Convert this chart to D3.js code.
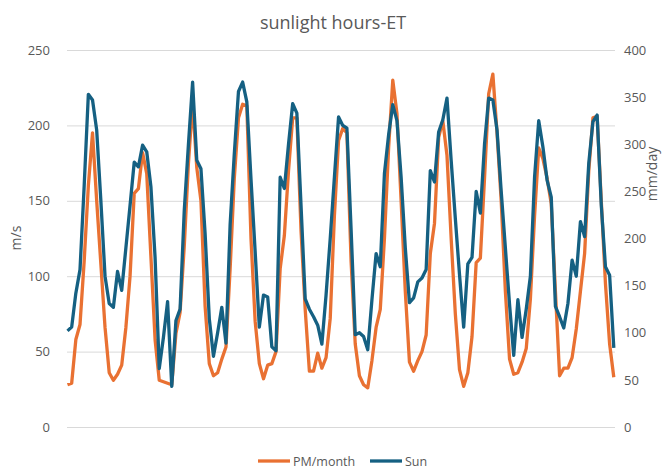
<!DOCTYPE html>
<html>
<head>
<meta charset="utf-8">
<script src="https://cdn.jsdelivr.net/npm/d3@7"></script>
<style>
  body { margin: 0; background: #fff; }
  svg text { font-family: "Open Sans", "Noto Sans", sans-serif; fill: #595959; }
</style>
</head>
<body>
<svg id="chart" width="666" height="469"></svg>
<script>
// monthly values, 11 years
const pmMonth = [
  28, 29, 58, 68, 110, 160, 195, 150, 108, 66, 36, 31,
  35, 41, 66, 100, 155, 158, 182, 168, 113, 58, 31, 30,
  29, 28, 62, 76, 120, 175, 215, 172, 150, 80, 42, 34,
  36, 45, 53, 105, 165, 205, 214, 213, 125, 70, 42, 32,
  41, 42, 50, 105, 127, 170, 205, 205, 130, 78, 37, 37,
  49, 39, 46, 72, 140, 190, 198, 195, 110, 55, 34, 28,
  26, 44, 66, 78, 125, 185, 230, 208, 150, 90, 43, 37,
  44, 50, 61, 115, 135, 192, 203, 180, 125, 75, 38, 27,
  36, 60, 109, 112, 165, 221, 234, 195, 150, 90, 45, 35,
  36, 43, 52, 85, 140, 185, 178, 165, 148, 90, 34, 39,
  39, 46, 65, 90, 115, 170, 205, 206, 150, 95, 55, 33
];
const sun = [
  102, 106, 142, 167, 256, 353, 347, 315, 240, 160, 131, 127,
  165, 145, 190, 235, 281, 276, 299, 292, 255, 180, 62, 95,
  133, 43, 113, 125, 230, 300, 366, 283, 274, 205, 115, 75,
  100, 127, 89, 215, 290, 356, 366, 345, 263, 186, 106, 140,
  138, 85, 81, 265, 253, 300, 343, 333, 235, 136, 125, 117,
  108, 88, 140, 200, 265, 329, 320, 317, 210, 98, 100, 96,
  82, 135, 184, 170, 269, 310, 342, 325, 265, 190, 132, 137,
  154, 158, 167, 272, 260, 313, 326, 349, 283, 221, 162, 106,
  173, 180, 250, 227, 300, 349, 347, 315, 250, 190, 130, 76,
  135, 95, 125, 160, 265, 325, 297, 262, 244, 128, 117, 105,
  131, 177, 160, 218, 202, 280, 324, 331, 235, 170, 161, 84
];
const months = pmMonth.map((d, i) => i);
const leftTicks = [0, 50, 100, 150, 200, 250];
const rightTicks = [0, 50, 100, 150, 200, 250, 300, 350, 400];

const colors = { pm: '#E97132', sun: '#156082' };

const plot = { left: 67, right: 615, top: 50, bottom: 427 };
const svg = d3.select('#chart');

const x = d3.scalePoint().domain(months).range([plot.left + 0.5, plot.right - 1.2]);
const yL = d3.scaleLinear().domain([0, 250]).range([plot.bottom, plot.top]);
const yR = d3.scaleLinear().domain([0, 400]).range([plot.bottom, plot.top]);

// title
svg.append('text')
  .attr('x', 333).attr('y', 29)
  .attr('text-anchor', 'middle')
  .style('font-size', '18px')
  .text('sunlight hours-ET');

// left axis with gridlines
const gL = svg.append('g')
  .attr('transform', 'translate(' + plot.left + ',0)')
  .call(d3.axisLeft(yL).tickValues(leftTicks).tickSize(-(plot.right - plot.left)).tickPadding(17));
gL.select('.domain').remove();
gL.selectAll('.tick line').attr('stroke', '#d9d9d9').attr('stroke-width', 1);
gL.selectAll('.tick text').style('font-size', '13px').attr('fill', '#595959');

// right axis, labels only
const gR = svg.append('g')
  .attr('transform', 'translate(' + plot.right + ',0)')
  .call(d3.axisRight(yR).tickValues(rightTicks).tickSize(0).tickPadding(9));
gR.select('.domain').remove();
gR.selectAll('.tick text').style('font-size', '13px').attr('fill', '#595959');

// axis titles
svg.append('text')
  .attr('transform', 'translate(21,238) rotate(-90)')
  .attr('text-anchor', 'middle')
  .style('font-size', '14px')
  .text('m/s');
svg.append('text')
  .attr('transform', 'translate(657,174) rotate(-90)')
  .attr('text-anchor', 'middle')
  .style('font-size', '14px')
  .text('mm/day');

// lines
const lineL = d3.line().x((d, i) => x(months[i])).y(d => yL(d));
const lineR = d3.line().x((d, i) => x(months[i])).y(d => yR(d));

svg.append('path')
  .datum(pmMonth)
  .attr('d', lineL)
  .attr('fill', 'none')
  .attr('stroke', colors.pm)
  .attr('stroke-width', 3.3)
  .attr('stroke-linejoin', 'round');

svg.append('path')
  .datum(sun)
  .attr('d', lineR)
  .attr('fill', 'none')
  .attr('stroke', colors.sun)
  .attr('stroke-width', 3.3)
  .attr('stroke-linejoin', 'round');

// legend
const legend = [
  { name: 'PM/month', color: colors.pm, x: 258 },
  { name: 'Sun', color: colors.sun, x: 370 }
];
const lg = svg.append('g');
legend.forEach(l => {
  lg.append('line')
    .attr('x1', l.x).attr('x2', l.x + 32)
    .attr('y1', 461).attr('y2', 461)
    .attr('stroke', l.color).attr('stroke-width', 3.3);
  lg.append('text')
    .attr('x', l.x + 35).attr('y', 465.5)
    .style('font-size', '12.5px')
    .text(l.name);
});
</script>
</body>
</html>
